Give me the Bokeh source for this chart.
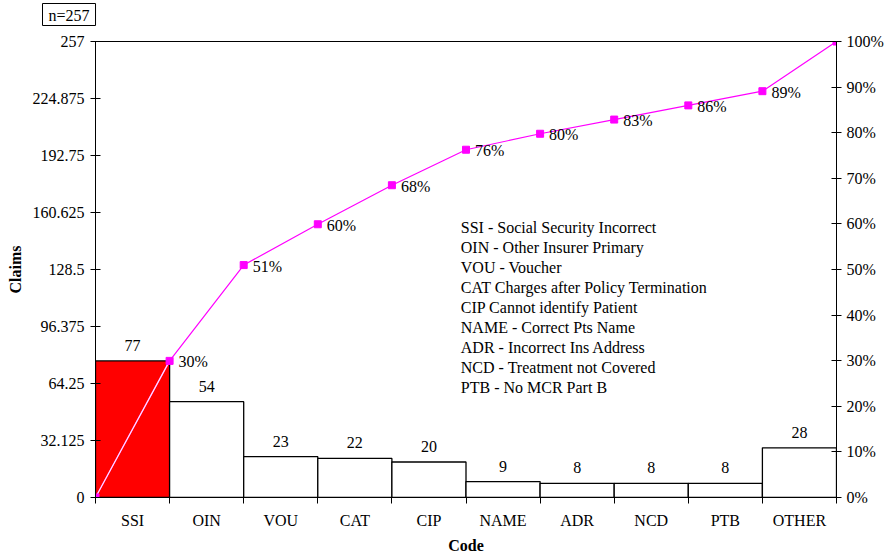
from bokeh.plotting import figure
from bokeh.models import Range1d, LinearAxis, FixedTicker, CustomJSTickFormatter, Title
from bokeh.embed import file_html
from bokeh.resources import INLINE
from bokeh.core.properties import value

# ---- data ----
codes = ["SSI", "OIN", "VOU", "CAT", "CIP", "NAME", "ADR", "NCD", "PTB", "OTHER"]
claims = [77, 54, 23, 22, 20, 9, 8, 8, 8, 28]
claims_ticks = [0, 32.125, 64.25, 96.375, 128.5, 160.625, 192.75, 224.875, 257]
pct_ticks = [0, 10, 20, 30, 40, 50, 60, 70, 80, 90, 100]
legend_lines = [
    "SSI - Social Security Incorrect",
    "OIN - Other Insurer Primary",
    "VOU - Voucher",
    "CAT Charges after Policy Termination",
    "CIP Cannot identify Patient",
    "NAME - Correct Pts Name",
    "ADR - Incorrect Ins Address",
    "NCD - Treatment not Covered",
    "PTB - No MCR Part B",
]

FONT = "Liberation Serif"
MAGENTA = "#ff00ff"

n = len(codes)
total = sum(claims)
centers = [i + 0.5 for i in range(n)]
bounds = list(range(n + 1))
cum = []
s = 0
for c in claims:
    s += c
    cum.append(s)
cum_pct = [0.0] + [c / total * 100 for c in cum]
pct_labels = [f"{round(v)}%" for v in cum_pct]
bar_colors = ["#ff0000" if i == 0 else "white" for i in range(n)]

title = Title(text=f"n={total}", align="left", offset=-53, standoff=0,
              text_font=FONT, text_font_size="16px", text_font_style="normal",
              text_color="black", border_line_color="black", border_line_width=1,
              background_fill_color="white",
              padding=dict(left=6, right=6, top=3, bottom=2))

p = figure(width=886, height=556, output_backend="svg", toolbar_location=None,
           x_range=Range1d(0, n), y_range=Range1d(0, total), title=title,
           min_border_left=95, min_border_right=20, min_border_top=41,
           min_border_bottom=10)
p.extra_y_ranges = {"pct": Range1d(0, 100)}
p.xgrid.grid_line_color = None
p.ygrid.grid_line_color = None
p.outline_line_color = "black"
p.outline_line_width = 1
p.background_fill_color = "white"
p.border_fill_color = "white"

xa = p.below[0]
ya = p.left[0]

# x axis
xa.ticker = FixedTicker(ticks=centers, minor_ticks=bounds)
xa.formatter = CustomJSTickFormatter(args=dict(labels=codes),
                                     code="return labels[Math.floor(tick)];")
xa.major_tick_line_color = None
xa.minor_tick_line_color = "black"
xa.minor_tick_in = 0
xa.minor_tick_out = 6
xa.major_label_standoff = 8
xa.axis_label = "Code"
xa.axis_label_standoff = 5

# left axis
ya.ticker = FixedTicker(ticks=claims_ticks)
ya.formatter = CustomJSTickFormatter(code="return String(tick);")
ya.major_tick_in = 5
ya.major_tick_out = 5
ya.minor_tick_line_color = None
ya.major_label_standoff = 6
ya.axis_label = "Claims"
ya.axis_label_standoff = 6

# right axis
ra = LinearAxis(y_range_name="pct")
ra.ticker = FixedTicker(ticks=pct_ticks)
ra.formatter = CustomJSTickFormatter(code="return Math.round(tick) + '%';")
ra.major_tick_in = 5
ra.major_tick_out = 5
ra.minor_tick_line_color = None
ra.major_label_standoff = 5
p.add_layout(ra, "right")

for ax in [xa, ya, ra]:
    ax.axis_line_color = "black"
    ax.axis_line_width = 1
    ax.major_label_text_font = FONT
    ax.major_label_text_font_size = "16px"
    ax.major_label_text_color = "black"
    ax.axis_label_text_font = FONT
    ax.axis_label_text_font_size = "16px"
    ax.axis_label_text_font_style = "bold"
    ax.axis_label_text_color = "black"

# spacer axis above (blank label, no ticks) to lift the n= box off the frame
spacer = LinearAxis(ticker=FixedTicker(ticks=[]), axis_line_color=None,
                    major_tick_line_color=None, minor_tick_line_color=None,
                    major_tick_out=0, major_tick_in=0, minor_tick_out=0,
                    major_label_standoff=0, axis_label=" ",
                    axis_label_text_font_size="11px", axis_label_standoff=1,
                    axis_label_text_color="white")
p.add_layout(spacer, "above")

# bars
p.vbar(x=centers, top=claims, bottom=0, width=1, fill_color=bar_colors,
       line_color="black", line_width=1.3)
p.text(x=centers, y=claims, text=[str(c) for c in claims], text_align="center",
       text_baseline="bottom", y_offset=-10, text_font=value(FONT),
       text_font_size="16px", text_color="black")

# cumulative line
p.line(bounds, cum_pct, line_color=MAGENTA, line_width=1.2, y_range_name="pct")
p.line(bounds[:2], cum_pct[:2], line_color="#ffe8ff", line_width=1.2, y_range_name="pct")
p.scatter(bounds, cum_pct, marker="square", size=7, fill_color=MAGENTA,
          line_color=MAGENTA, y_range_name="pct")
p.text(x=bounds[1:-1], y=cum_pct[1:-1], text=pct_labels[1:-1], text_align="left",
       text_baseline="middle", x_offset=9, y_offset=1, text_font=value(FONT),
       text_font_size="16px", text_color="black", y_range_name="pct")

# code legend text block
leg_x = 4.93
leg_y = 152.2
m = len(legend_lines)
p.text(x=[leg_x] * m, y=[leg_y] * m, text=legend_lines,
       y_offset=[20 * i for i in range(m)], text_align="left",
       text_baseline="middle", text_font=value(FONT), text_font_size="16px",
       text_color="black")

open("out.html", "w").write(file_html(p, INLINE))
